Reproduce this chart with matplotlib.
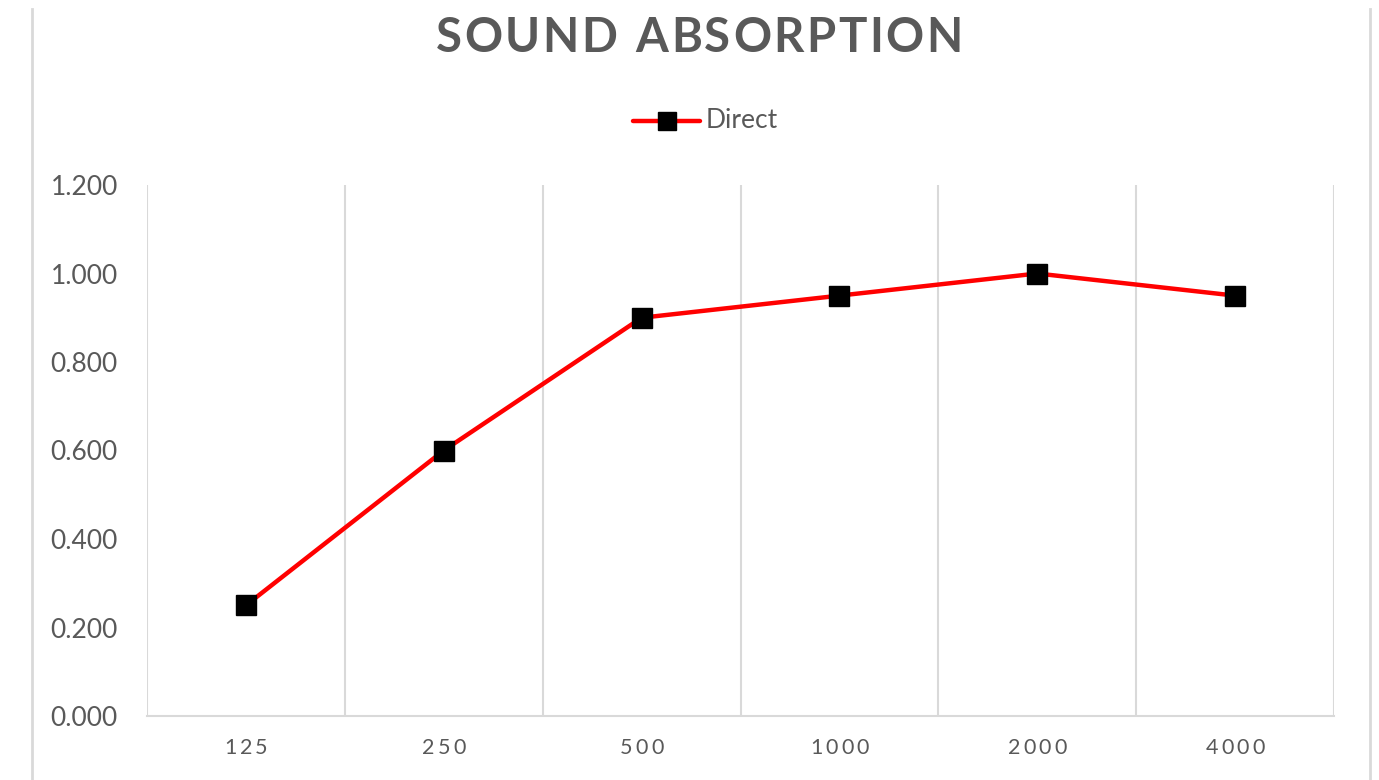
import matplotlib
matplotlib.use("Agg")
import matplotlib.pyplot as plt
from matplotlib.lines import Line2D

categories = ["125", "250", "500", "1000", "2000", "4000"]
direct = [0.25, 0.60, 0.90, 0.95, 1.00, 0.95]
yticks = [0.0, 0.2, 0.4, 0.6, 0.8, 1.0, 1.2]
title = "SOUND ABSORPTION"
series_name = "Direct"

FONT = ["Lato", "DejaVu Sans"]
TXT = "#595959"
GRID = "#d9d9d9"

W, H = 1379, 780
fig = plt.figure(figsize=(W / 100, H / 100), dpi=100)
fig.patch.set_facecolor("white")

# chart border lines (left and right)
fig.add_artist(Line2D([32 / W, 32 / W], [0, 1 - 9 / H], color=GRID, lw=2, transform=fig.transFigure))
fig.add_artist(Line2D([1370 / W, 1370 / W], [0, 1 - 9 / H], color=GRID, lw=2, transform=fig.transFigure))

ax = fig.add_axes([147 / W, 1 - 716 / H, (1334 - 147) / W, (716 - 185) / H])
xs = [i + 0.5 for i in range(len(categories))]
ax.set_xlim(0, len(categories))
ax.set_ylim(0, 1.2)

for i in range(len(categories) + 1):
    ax.axvline(i, color=GRID, lw=1.5, zorder=0)
for s in ["top", "left", "right"]:
    ax.spines[s].set_visible(False)
ax.spines["bottom"].set_color(GRID)
ax.spines["bottom"].set_linewidth(1.5)

ax.set_yticks(yticks)
ax.set_yticklabels([f"{v:.3f}" for v in yticks], fontfamily=FONT, fontsize=19, color=TXT)
ax.tick_params(axis="y", length=0, pad=21)
ax.set_xticks(xs)
ax.set_xticklabels([])
ax.tick_params(axis="x", length=0)

ax.plot(xs, direct, color="#ff0000", lw=3.2, marker="s", markersize=14,
        markerfacecolor="black", markeredgecolor="black", zorder=3)

fig.canvas.draw()
renderer = fig.canvas.get_renderer()


def spaced_text(x_disp, y_disp, s, spacing, **kw):
    """Draw text centered at display coords with extra letter spacing (px)."""
    widths = []
    for ch in s:
        t = fig.text(0, 0, ch if ch != " " else "n", **kw)
        bb = t.get_window_extent(renderer)
        w = bb.width if ch != " " else bb.width * 0.5
        widths.append(w)
        t.remove()
    total = sum(widths) + spacing * (len(s) - 1)
    x = x_disp - total / 2
    for ch, w in zip(s, widths):
        if ch != " ":
            fig.text(x / W, y_disp / H, ch, ha="left", va="center", **kw)
        x += w + spacing


spaced_text(699, H - 38, title, 2.5, fontfamily=FONT, fontsize=34, fontweight="bold", color=TXT)

for xv, lab in zip(xs, categories):
    xd = ax.transData.transform((xv, 0))[0]
    spaced_text(xd, H - 748, lab, 3.2, fontfamily=FONT, fontsize=15.5, color=TXT)

# legend
lx0, lx1, ly = 633, 703, H - 121
fig.add_artist(Line2D([lx0 / W, (lx1 - 3) / W], [ly / H, ly / H], color="#ff0000", lw=3.2,
                      solid_capstyle="round", transform=fig.transFigure))
fig.add_artist(Line2D([(lx0 + lx1 - 3) / 2 / W], [ly / H], marker="s", markersize=13,
                      color="black", transform=fig.transFigure))
fig.text(706 / W, ly / H, series_name, ha="left", va="center", fontfamily=FONT, fontsize=19, color=TXT)

fig.savefig("out.png", dpi=100, facecolor="white")
